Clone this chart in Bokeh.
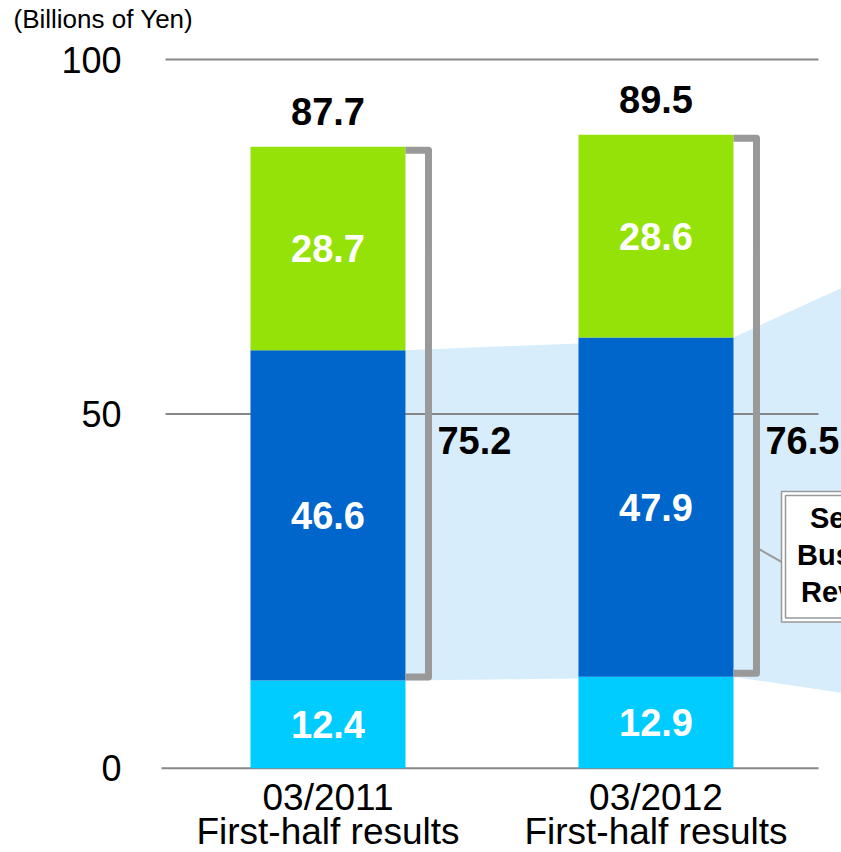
from bokeh.plotting import figure
from bokeh.models import ColumnDataSource, Range1d, FixedTicker, Label
from bokeh.core.properties import value
from bokeh.embed import file_html
from bokeh.resources import INLINE

# ---------------- data ----------------
categories = ["03/2011", "03/2012"]
period_labels = ["First-half results", "First-half results"]
bottom_vals = [12.4, 12.9]     # light cyan segment
middle_vals = [46.6, 47.9]     # blue segment
top_vals = [28.7, 28.6]        # green segment
total_labels = ["87.7", "89.5"]
bracket_labels = ["75.2", "76.5"]
y_ticks = [0, 50, 100]
band_exit = [68.5, 10.4]       # top / bottom of the shaded band where it leaves the picture
unit_label = "(Billions of Yen)"
box_text = "Service\nBusiness\nRevenue"

# ---------------- layout constants ----------------
FONT = value("Liberation Sans")
PX_X = 328.0                 # px per x unit
PX_Y = 7.07                  # px per y unit
TITLE_H = 36                 # height of the title panel above the frame
X0 = 0.4284
X1 = X0 + 701 / PX_X
Y0 = -(852 - 768) / PX_Y
Y1 = 100 + (61 - TITLE_H) / PX_Y
BAR_W = 155 / PX_X
xs = [1, 2]

C_CYAN, C_BLUE, C_GREEN = "#00CCFF", "#0066CC", "#95E208"
C_BAND, C_GRAY, C_GRID = "#D7EDFC", "#999999", "#878787"

p = figure(width=841, height=852, output_backend="svg", toolbar_location=None,
           x_range=Range1d(X0, X1), y_range=Range1d(Y0, Y1),
           x_axis_location=None, min_border_left=140, min_border_right=0,
           min_border_top=0, min_border_bottom=0)
p.outline_line_color = None
p.xgrid.visible = False
p.ygrid.visible = False
p.background_fill_color = "white"

# unit label as the title
p.title.text = unit_label
p.title.text_font = "Liberation Sans"
p.title.text_font_size = "26px"
p.title.text_font_style = "normal"
p.title.text_color = "black"
p.title.align = "left"
p.title.offset = -127
p.title.standoff = 2

# y axis
ax = p.yaxis[0]
ax.ticker = FixedTicker(ticks=y_ticks)
ax.axis_line_color = None
ax.major_tick_line_color = None
ax.minor_tick_line_color = None
ax.major_tick_out = 0
ax.major_tick_in = 0
ax.major_label_standoff = 19
ax.major_label_text_font = "Liberation Sans"
ax.major_label_text_font_size = "36px"
ax.major_label_text_color = "black"

half = BAR_W / 2
right_edges = [x + half for x in xs]
bracket_x = [r + 23 / PX_X for r in right_edges]
mid_top = [b + m for b, m in zip(bottom_vals, middle_vals)]
stack_top = [b + m + t for b, m, t in zip(bottom_vals, middle_vals, top_vals)]

# shaded band (behind everything)
band_x = [right_edges[0], right_edges[1], 2.6, 2.6, right_edges[1], right_edges[0]]
band_y = [mid_top[0], mid_top[1], band_exit[0], band_exit[1], bottom_vals[1], bottom_vals[0]]
p.patch(band_x, band_y, fill_color=C_BAND, line_color=None)

# grid lines
grid_x0 = [X0 + (161 - 140) / PX_X if t == 0 else X0 + (165 - 140) / PX_X for t in y_ticks]
grid_x1 = [X0 + (818 - 140) / PX_X] * len(y_ticks)
p.segment(x0=grid_x0, y0=y_ticks, x1=grid_x1, y1=y_ticks, line_color=C_GRID, line_width=2)

# stacked bars
src = ColumnDataSource(dict(x=xs, b=bottom_vals, m=middle_vals, t=top_vals))
p.vbar_stack(["b", "m", "t"], x="x", width=BAR_W, source=src,
             color=[C_CYAN, C_BLUE, C_GREEN], line_color=None)

# segment labels
seg_x, seg_y, seg_t = [], [], []
for i, x in enumerate(xs):
    b, m, t = bottom_vals[i], middle_vals[i], top_vals[i]
    for yc, v in ((b / 2, b), (b + m / 2, m), (b + m + t / 2, t)):
        seg_x.append(x)
        seg_y.append(yc)
        seg_t.append(f"{v:.1f}")
p.text(seg_x, seg_y, text=seg_t, text_font=FONT, text_font_style="bold",
       text_font_size="38px", text_color="white", text_align="center",
       text_baseline="middle")

# totals above bars
p.text(xs, stack_top, text=total_labels, text_font=FONT, text_font_style="bold",
       text_font_size="38px", text_color="black", text_align="center",
       text_baseline="middle", y_offset=-35)

# brackets
inset = 3.5 / PX_Y
br_xs = [[r, bx, bx, r] for r, bx in zip(right_edges, bracket_x)]
br_ys = [[st - inset, st - inset, b + inset, b + inset] for st, b in zip(stack_top, bottom_vals)]
p.multi_line(br_xs, br_ys, line_color=C_GRAY, line_width=7, line_join="round")

p.text([bx + 9 / PX_X for bx in bracket_x], [46.25, 46.25], text=bracket_labels,
       text_font=FONT, text_font_style="bold", text_font_size="38px",
       text_color="black", text_align="left", text_baseline="middle")

# callout box (cut by the right edge)
box_l, box_r, box_t, box_b = X0 + (781 - 140) / PX_X, 3.0, 39.04, 20.65
dx, dy = 4 / PX_X, 4 / PX_Y
p.segment(x0=[bracket_x[1]], y0=[31.12], x1=[box_l], y1=[29.14], line_color=C_GRAY, line_width=2)
p.quad(left=[box_l], right=[box_r], top=[box_t], bottom=[box_b],
       fill_color="white", line_color=C_GRAY, line_width=1.5)
p.quad(left=[box_l + dx], right=[box_r], top=[box_t - dy], bottom=[box_b + dy],
       fill_color="white", line_color=C_GRAY, line_width=1.5)
p.add_layout(Label(x=X0 + (861 - 140) / PX_X, y=30.13, text=box_text, text_font="Liberation Sans",
                   text_font_style="bold", text_font_size="29px", text_color="black",
                   text_align="center", text_baseline="middle", text_line_height=1.16))

# category labels
p.text(xs, [-4.10, -4.10], text=categories, text_font=FONT, text_font_size="37px",
       text_color="black", text_align="center", text_baseline="middle")
p.text(xs, [-8.91, -8.91], text=period_labels, text_font=FONT, text_font_size="37px",
       text_color="black", text_align="center", text_baseline="middle")

open("out.html", "w").write(file_html(p, INLINE))
